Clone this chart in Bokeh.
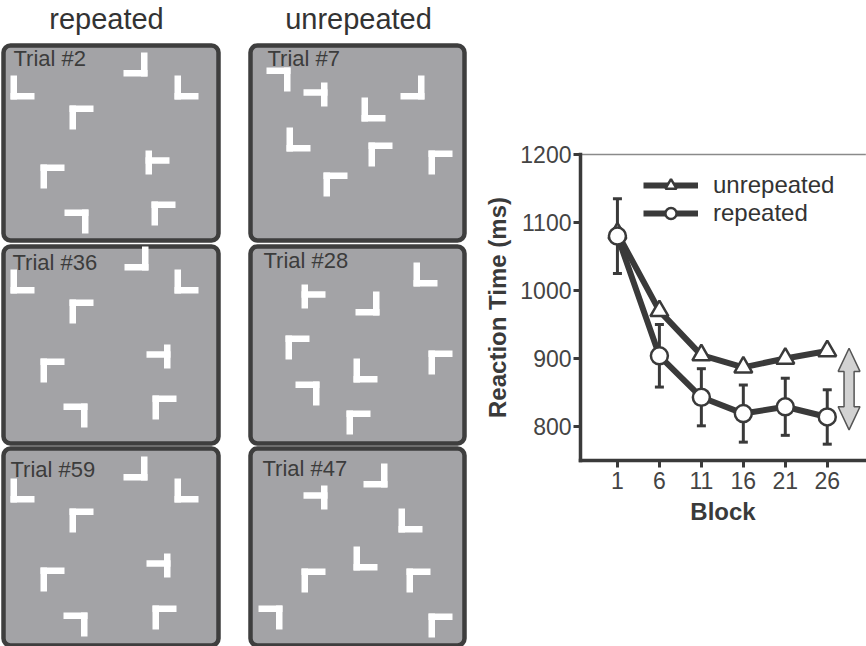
from bokeh.plotting import figure
from bokeh.models import (Range1d, FixedTicker, Whisker, TeeHead, ColumnDataSource,
                          LinearAxis)
from bokeh.core.properties import value
from bokeh.embed import file_html
from bokeh.resources import INLINE

FONT = "Liberation Sans"

# ---------------- chart data ----------------
blocks = [1, 6, 11, 16, 21, 26]
rt_unrepeated = [1084, 970, 905, 887, 900, 911]
rt_repeated = [1080, 904, 843, 819, 829, 814]
err_repeated = [55, 46, 42, 42, 42, 40]
y_ticks = [800, 900, 1000, 1100, 1200]
legend_labels = ["unrepeated", "repeated"]

# ---------------- display illustration data ----------------
column_titles = ["repeated", "unrepeated"]
panel_titles = ["Trial #2", "Trial #7", "Trial #36", "Trial #28", "Trial #59", "Trial #47"]
# stimulus items: panel index, x, y (position in the illustration), shape kind
stim_panel = [0]*8 + [1]*8 + [2]*8 + [3]*8 + [4]*8 + [5]*8
stim_x = [135, 22, 186, 81, 157, 52, 76, 163,
          278, 315, 373, 412, 298, 380, 440, 335,
          136, 22, 186, 81, 158, 52, 75, 164,
          425, 313, 367, 297, 365, 440, 307, 358,
          135, 22, 186, 81, 158, 52, 75, 164,
          375, 315, 410, 365, 313, 418, 270, 440]
stim_y = [64, 87, 87, 117, 162, 176, 221, 213,
          79, 94, 109, 87, 139, 154, 162, 184,
          258, 281, 281, 311, 356, 370, 415, 407,
          274, 296, 303, 347, 370, 362, 393, 422,
          468, 490, 490, 520, 565, 579, 624, 617,
          475, 497, 520, 558, 580, 580, 617, 625]
stim_kind = ["J", "L", "L", "F", "TL", "F", "7", "F",
             "7", "TR", "L", "J", "L", "F", "F", "F",
             "J", "L", "L", "F", "TR", "F", "7", "F",
             "L", "TL", "J", "F", "L", "F", "7", "F",
             "J", "L", "L", "F", "TR", "F", "7", "F",
             "J", "TR", "L", "L", "F", "F", "7", "F"]

# ---------------- layout constants ----------------
W, H = 866, 646
col_left = [3, 250]
col_right = [218, 464]
row_top = [45, 246, 448]
row_bottom = [240, 443, 645]
label_pos = [(13, 58), (267, 58), (12, 262), (263, 260), (10, 469), (262, 468)]
title_pos = [(106, 18), (358, 18)]
BAR_L, BAR_T = 24, 6.5

# chart placement (pixels) and its data window
FR_L, FR_R, FR_T, FR_B = 580, 862, 154, 460
X_LO, X_HI, Y_LO, Y_HI = -3.4, 30.2, 750, 1200
sx = (X_HI - X_LO) / (FR_R - FR_L)
sy = (Y_HI - Y_LO) / (FR_B - FR_T)
blk_range = Range1d(X_LO - FR_L * sx, X_HI + (W - FR_R) * sx)
rt_range = Range1d(Y_LO - (H - FR_B) * sy, Y_HI + FR_T * sy)

p = figure(width=W, height=H, x_range=Range1d(0, W), y_range=Range1d(H, 0),
           output_backend="svg", toolbar_location=None, min_border=0,
           x_axis_location=None, y_axis_location=None)
p.extra_x_ranges = {"blk": blk_range}
p.extra_y_ranges = {"rt": rt_range}
p.outline_line_color = None
p.xgrid.visible = False
p.ygrid.visible = False

# ---------------- left illustration ----------------
pl, pr, pt, pb = [], [], [], []
for i in range(len(panel_titles)):
    c, r = i % 2, i // 2
    pl.append(col_left[c]); pr.append(col_right[c]); pt.append(row_top[r]); pb.append(row_bottom[r])
p.quad(left=pl, right=pr, top=pt, bottom=pb, fill_color="#a3a3a6",
       line_color="#3e3e3e", line_width=4.5, border_radius=7)

p.text(x=[q[0] for q in title_pos], y=[q[1] for q in title_pos], text=column_titles,
       text_font=value(FONT), text_font_size="29px", text_color="#333333",
       text_align="center", text_baseline="middle")
p.text(x=[q[0] for q in label_pos], y=[q[1] for q in label_pos], text=panel_titles,
       text_font=value(FONT), text_font_size="22px", text_color="#3c3c3c",
       text_align="left", text_baseline="middle")

bx, by, bw, bh = [], [], [], []
half = BAR_L / 2
for cx, cy, kind in zip(stim_x, stim_y, stim_kind):
    vx = cx - half + BAR_T / 2 if kind in ("L", "F", "TL") else cx + half - BAR_T / 2
    if kind in ("F", "7"):
        hy = cy - half + BAR_T / 2
    elif kind in ("L", "J"):
        hy = cy + half - BAR_T / 2
    else:
        hy = cy - 2
    bx += [vx, cx]; by += [cy, hy]; bw += [BAR_T, BAR_L]; bh += [BAR_L, BAR_T]
p.rect(x=bx, y=by, width=bw, height=bh, fill_color="white", line_color=None)

# ---------------- right chart ----------------
DARK = "#3a3a3a"
R = dict(x_range_name="blk", y_range_name="rt")

p.segment(x0=[X_LO], y0=[Y_HI], x1=[X_HI + 0.4], y1=[Y_HI], line_color="#8a8a8a", line_width=1.5, **R)

src = ColumnDataSource(dict(x=blocks, lo=[v - e for v, e in zip(rt_repeated, err_repeated)],
                            hi=[v + e for v, e in zip(rt_repeated, err_repeated)]))
wh = Whisker(base="x", lower="lo", upper="hi", source=src, line_color=DARK, line_width=3,
             upper_head=TeeHead(size=9, line_color=DARK, line_width=3),
             lower_head=TeeHead(size=9, line_color=DARK, line_width=3),
             level="underlay", **R)
p.add_layout(wh)

p.line(blocks, rt_unrepeated, line_width=6, line_color=DARK, legend_label=legend_labels[0], **R)
p.line(blocks, rt_repeated, line_width=6, line_color=DARK, legend_label=legend_labels[1], **R)
p.scatter(blocks, rt_unrepeated, marker="triangle", size=18, fill_color="white",
          line_color=DARK, line_width=2.5, legend_label=legend_labels[0], **R)
p.scatter(blocks, rt_repeated, marker="circle", size=17, fill_color="white",
          line_color=DARK, line_width=2.5, legend_label=legend_labels[1], **R)

# double-headed arrow showing the difference
AX, AY0, AY1 = 28.6, 795, 915
HL, HH, SH = 34, 1.3, 0.6
xs = [AX, AX + HH, AX + SH, AX + SH, AX + HH, AX, AX - HH, AX - SH, AX - SH, AX - HH]
ys = [AY1, AY1 - HL, AY1 - HL, AY0 + HL, AY0 + HL, AY0, AY0 + HL, AY0 + HL, AY1 - HL, AY1 - HL]
p.patch(xs, ys, fill_color="#d2d2d2", line_color="#555555", line_width=1.5, **R)

xaxis = LinearAxis(fixed_location=Y_LO, bounds=(X_LO, X_HI + 0.4), ticker=FixedTicker(ticks=blocks),
                   axis_label="Block", **R)
yaxis = LinearAxis(fixed_location=X_LO, bounds=(Y_LO, Y_HI), ticker=FixedTicker(ticks=y_ticks),
                   axis_label="Reaction Time (ms)", **R)
for ax in (xaxis, yaxis):
    ax.axis_line_width = 3.5
    ax.axis_line_color = DARK
    ax.axis_line_cap = "square"
    ax.major_tick_line_width = 3
    ax.major_tick_line_color = DARK
    ax.major_tick_out = 7
    ax.major_tick_in = 0
    ax.minor_tick_out = 0
    ax.minor_tick_in = 0
    ax.major_label_text_font = FONT
    ax.major_label_text_font_size = "23px"
    ax.major_label_text_color = "#444444"
    ax.axis_label_text_font = FONT
    ax.axis_label_text_font_style = "bold"
    ax.axis_label_text_color = "#3a3a3a"
xaxis.axis_label_text_font_size = "24px"
yaxis.axis_label_text_font_size = "24px"
xaxis.major_label_standoff = 4
yaxis.major_label_standoff = 2
xaxis.axis_label_standoff = 6
yaxis.axis_label_standoff = 6
p.add_layout(xaxis, "below")
p.add_layout(yaxis, "left")

lg = p.legend[0]
lg.location = (643, H - 227)
lg.padding = 0
lg.margin = 0
lg.spacing = 0
lg.glyph_width = 55
lg.glyph_height = 28
lg.label_height = 28
lg.label_standoff = 15
lg.label_text_font = FONT
lg.label_text_font_size = "24px"
lg.label_text_color = "#333333"
lg.border_line_color = None
lg.background_fill_alpha = 0

open("out.html", "w").write(file_html(p, INLINE))
